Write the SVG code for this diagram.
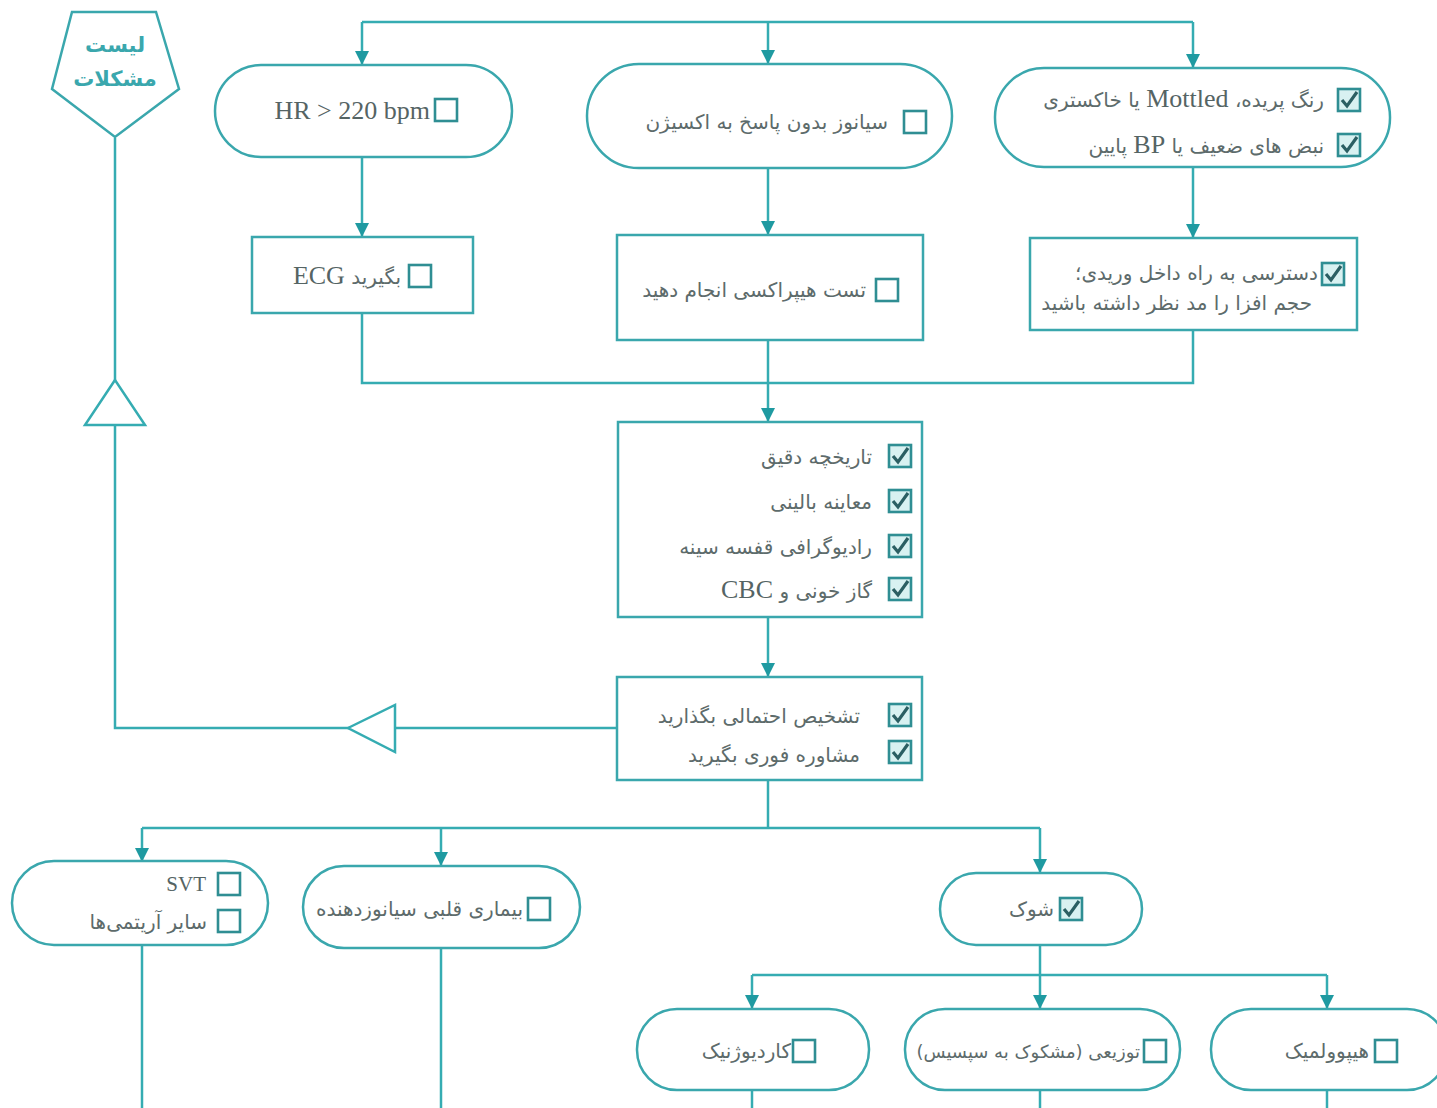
<svg xmlns="http://www.w3.org/2000/svg" xmlns:xlink="http://www.w3.org/1999/xlink" width="1437" height="1108" viewBox="0 0 1437 1108">
<style>
.ln{fill:none;stroke:#35acb2;stroke-width:2.5}
.nd{fill:#fff;stroke:#3aa7ad;stroke-width:2.5}
.tri{fill:#fff;stroke:#35acb2;stroke-width:2.5}
.tx{font-family:"DejaVu Sans","Noto Sans",sans-serif;font-size:20px;fill:#5d6b6b;direction:rtl;unicode-bidi:embed;text-anchor:start}
.lat{font-family:"Liberation Serif","DejaVu Sans",serif;font-size:26px;fill:#556464}
.ttl{font-family:"DejaVu Sans",sans-serif;font-size:21px;font-weight:bold;fill:#3aa7ad;text-anchor:middle}
</style>
<defs>
<marker id="arr" markerUnits="userSpaceOnUse" markerWidth="16" markerHeight="14" refX="14" refY="7" orient="auto">
<path d="M0,0 L14,7 L0,14 z" fill="#1f9aa1"/>
</marker>
<g id="box">
<rect x="0" y="0" width="22" height="22" fill="#fff" stroke="#2f8e93" stroke-width="2.6"/>
</g>
<g id="chk">
<rect x="0" y="0" width="22" height="22" fill="#d8f1f1" stroke="#2f8e93" stroke-width="2.6"/>
<path d="M4,11 L9,17 L19,3" fill="none" stroke="#2b5f63" stroke-width="3.2"/>
</g>
</defs>
<rect width="1437" height="1108" fill="#fff"/>

<!-- connectors -->
<g id="connectors">
<path class="ln" d="M362,22 H1193"/>
<path class="ln" d="M362,22 V65" marker-end="url(#arr)"/>
<path class="ln" d="M768,22 V64" marker-end="url(#arr)"/>
<path class="ln" d="M1193,22 V68" marker-end="url(#arr)"/>
<path class="ln" d="M362,157 V237" marker-end="url(#arr)"/>
<path class="ln" d="M768,168 V235" marker-end="url(#arr)"/>
<path class="ln" d="M1193,167 V238" marker-end="url(#arr)"/>
<path class="ln" d="M362,313 V383 H1193 V330"/>
<path class="ln" d="M768,340 V422" marker-end="url(#arr)"/>
<path class="ln" d="M768,617 V677" marker-end="url(#arr)"/>
<path class="ln" d="M617,728 H115 V138"/>
<polygon class="tri" points="348,728 395,705 395,752"/>
<polygon class="tri" points="115,380 85,425 145,425"/>
<path class="ln" d="M768,780 V828"/>
<path class="ln" d="M142,828 H1040"/>
<path class="ln" d="M142,828 V862" marker-end="url(#arr)"/>
<path class="ln" d="M441,828 V866" marker-end="url(#arr)"/>
<path class="ln" d="M1040,828 V873" marker-end="url(#arr)"/>
<path class="ln" d="M142,945 V1108"/>
<path class="ln" d="M441,948 V1108"/>
<path class="ln" d="M1040,945 V975"/>
<path class="ln" d="M752,975 H1327"/>
<path class="ln" d="M752,975 V1009" marker-end="url(#arr)"/>
<path class="ln" d="M1040,975 V1009" marker-end="url(#arr)"/>
<path class="ln" d="M1327,975 V1009" marker-end="url(#arr)"/>
<path class="ln" d="M752,1090 V1108"/>
<path class="ln" d="M1040,1090 V1108"/>
<path class="ln" d="M1327,1090 V1108"/>
</g>

<!-- problem list -->
<g id="problem-list">
<polygon class="nd" points="72,12 156,12 179,89 115,137 52,89"/>
<text class="ttl" x="115" y="52">لیست</text>
<text class="ttl" x="115" y="86">مشکلات</text>
</g>

<g id="hr">
<rect class="nd" x="215" y="65" width="297" height="92" rx="46"/>
<text class="lat" x="430" y="119" text-anchor="end">HR &gt; 220 bpm</text>
<use href="#box" x="435" y="99"/>
</g>

<g id="cyanosis">
<rect class="nd" x="587" y="64" width="365" height="104" rx="52"/>
<text class="tx" x="888" y="129">سیانوز بدون پاسخ به اکسیژن</text>
<use href="#box" x="904" y="111"/>
</g>

<g id="perfusion">
<rect class="nd" x="995" y="68" width="395" height="99" rx="49"/>
<text class="tx" x="1324" y="107">رنگ پریده، <tspan class="lat">Mottled</tspan> یا خاکستری</text>
<text class="tx" x="1324" y="153">نبض های ضعیف یا <tspan class="lat">BP</tspan> پایین</text>
<use href="#chk" x="1338" y="89"/>
<use href="#chk" x="1338" y="134"/>
</g>

<g id="ecg">
<rect class="nd" x="252" y="237" width="221" height="76"/>
<text class="tx" x="401" y="284">بگیرید <tspan class="lat">ECG</tspan></text>
<use href="#box" x="409" y="265"/>
</g>

<g id="hyperoxia">
<rect class="nd" x="617" y="235" width="306" height="105"/>
<text class="tx" x="866" y="297">تست هیپراکسی انجام دهید</text>
<use href="#box" x="876" y="279"/>
</g>

<g id="iv-access">
<rect class="nd" x="1030" y="238" width="327" height="92"/>
<text class="tx" x="1318" y="280">دسترسی به راه داخل وریدی؛</text>
<text class="tx" x="1312" y="310">حجم افزا را مد نظر داشته باشید</text>
<use href="#chk" x="1322" y="263"/>
</g>

<g id="workup">
<rect class="nd" x="618" y="422" width="304" height="195"/>
<text class="tx" x="872" y="464">تاریخچه دقیق</text>
<text class="tx" x="872" y="509">معاینه بالینی</text>
<text class="tx" x="872" y="554">رادیوگرافی قفسه سینه</text>
<text class="tx" x="872" y="598">گاز خونی و <tspan class="lat">CBC</tspan></text>
<use href="#chk" x="889" y="445"/>
<use href="#chk" x="889" y="490"/>
<use href="#chk" x="889" y="535"/>
<use href="#chk" x="889" y="578"/>
</g>

<g id="diagnosis">
<rect class="nd" x="617" y="677" width="305" height="103"/>
<text class="tx" x="860" y="723">تشخیص احتمالی بگذارید</text>
<text class="tx" x="860" y="762">مشاوره فوری بگیرید</text>
<use href="#chk" x="889" y="704"/>
<use href="#chk" x="889" y="741"/>
</g>

<g id="arrhythmia">
<rect class="nd" x="12" y="861" width="256" height="84" rx="42"/>
<text class="lat" x="206" y="891" text-anchor="end" style="font-size:21px">SVT</text>
<text class="tx" x="207" y="929">سایر آریتمی‌ها</text>
<use href="#box" x="218" y="873"/>
<use href="#box" x="218" y="910"/>
</g>

<g id="cyanotic-heart">
<rect class="nd" x="303" y="866" width="277" height="82" rx="41"/>
<text class="tx" x="523" y="916">بیماری قلبی سیانوزدهنده</text>
<use href="#box" x="528" y="898"/>
</g>

<g id="shock">
<rect class="nd" x="940" y="873" width="202" height="72" rx="36"/>
<text class="tx" x="1054" y="916">شوک</text>
<use href="#chk" x="1060" y="898"/>
</g>

<g id="cardiogenic">
<rect class="nd" x="637" y="1009" width="232" height="81" rx="40"/>
<text class="tx" x="791" y="1058">کاردیوژنیک</text>
<use href="#box" x="793" y="1040"/>
</g>

<g id="distributive">
<rect class="nd" x="905" y="1009" width="275" height="81" rx="40"/>
<text class="tx" x="1140" y="1058" style="font-size:18px">توزیعی (مشکوک به سپسیس)</text>
<use href="#box" x="1144" y="1040"/>
</g>

<g id="hypovolemic">
<rect class="nd" x="1211" y="1009" width="236" height="81" rx="40"/>
<text class="tx" x="1369" y="1058">هیپوولمیک</text>
<use href="#box" x="1375" y="1040"/>
</g>
</svg>
